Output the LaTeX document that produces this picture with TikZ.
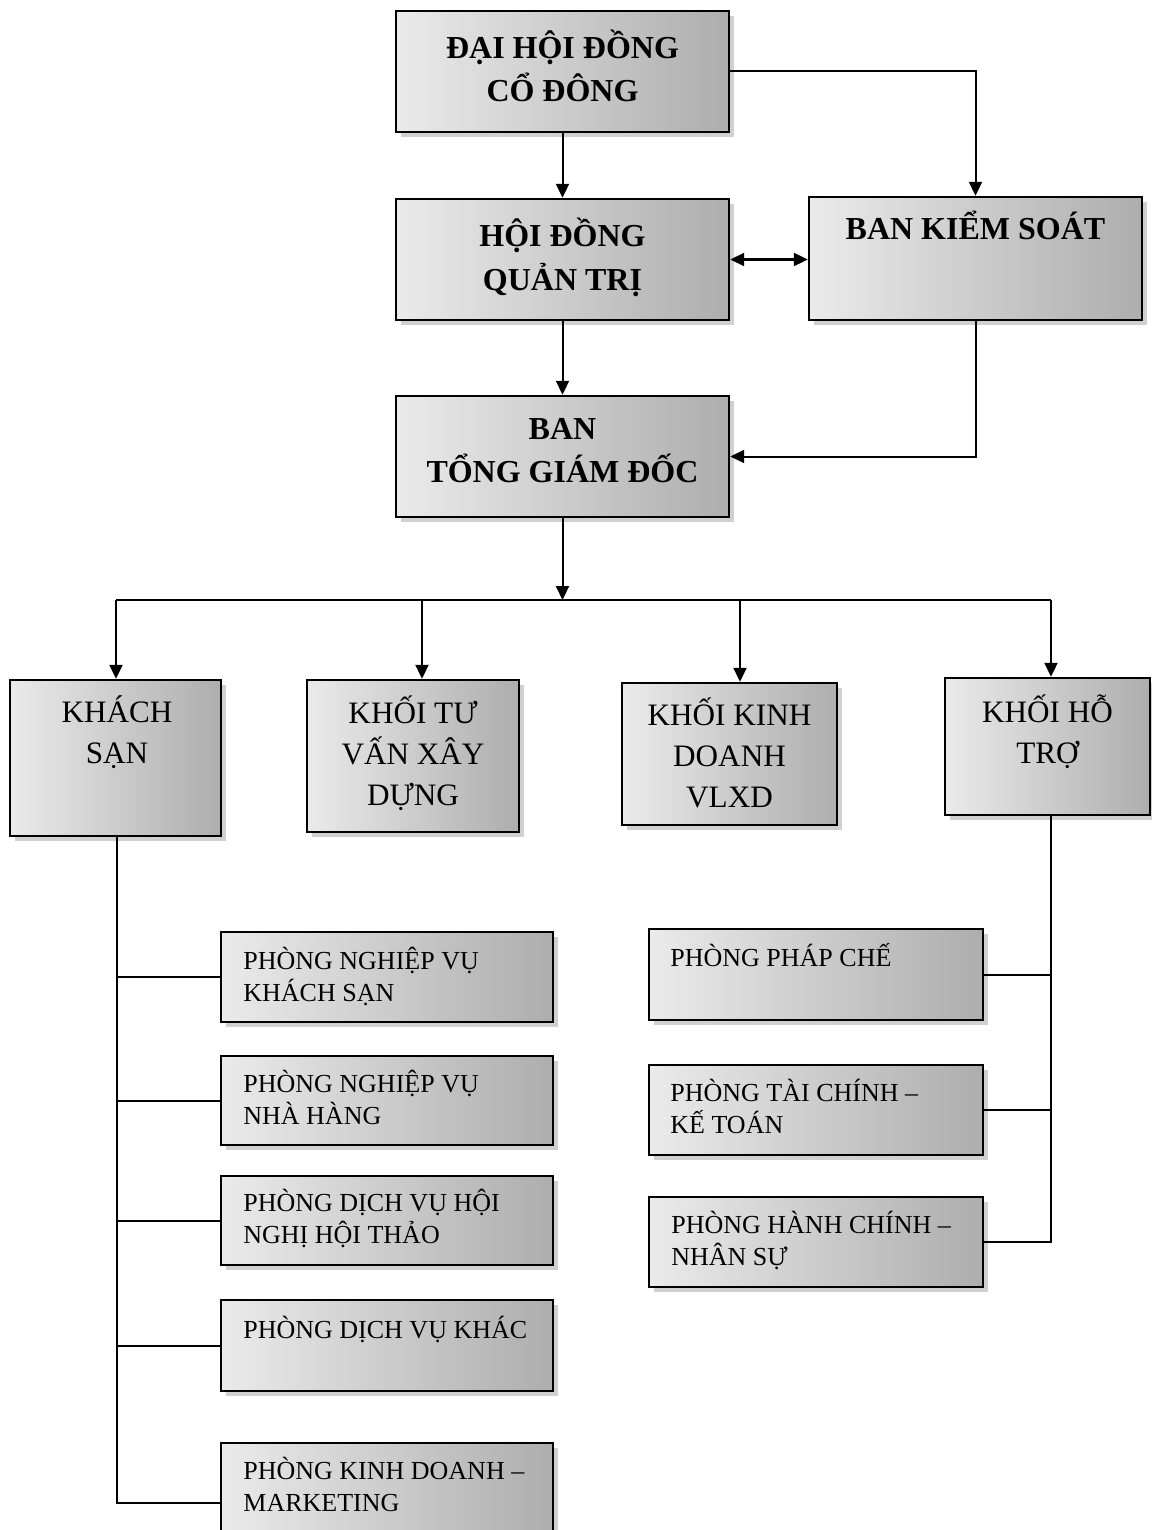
\documentclass[tikz,border=0pt]{standalone}
\usepackage{fontspec}
\setmainfont{Liberation Serif}
\usetikzlibrary{arrows.meta,fit,shadows}
\newcommand\ptxt[2]{\parbox[t]{#1}{#2}}
\newcommand\ltxt[1]{\begin{tabular}[t]{@{}l@{}}#1\end{tabular}}
\begin{document}
\begin{tikzpicture}[x=0.5pt,y=-0.5pt,
  box/.style={draw=black, line width=1.2pt, inner sep=0pt,
    left color=black!8, right color=black!32,
    drop shadow={shadow xshift=2.5pt, shadow yshift=-2.5pt, fill=black!60, opacity=0.3}},
  bigtxt/.style={inner sep=0pt, anchor=base, font=\fontsize{16}{21.5}\selectfont\bfseries},
  midtxt/.style={inner sep=0pt, anchor=base, font=\fontsize{15.6}{20.5}\selectfont},
  subtxt/.style={inner sep=0pt, anchor=base west, font=\fontsize{13}{16}\selectfont},
  conn/.style={line width=1pt},
  arr/.style={conn, -{Triangle[length=7pt,width=6.5pt]}},
  darr/.style={conn, {Triangle[length=7pt,width=6.5pt]}-{Triangle[length=7pt,width=6.5pt]}}]
\useasboundingbox[fill=white] (0,0) rectangle (1151,1530);

% top level boxes
\node[box, fit={(396,11)(729,132)}] (dh) {};
\node[box, fit={(396,199)(729,320)}] (hd) {};
\node[box, fit={(809,197)(1142,320)}] (bks) {};
\node[box, fit={(396,396)(729,517)}] (bt) {};

\node[bigtxt] (dht) at (562.5,59) {\ptxt{300pt}{\centering ĐẠI HỘI ĐỒNG\\CỔ ĐÔNG}};
\node[bigtxt] (hdt) at (562.5,247) {\ptxt{300pt}{\centering HỘI ĐỒNG\\QUẢN TRỊ}};
\node[bigtxt] (bkst) at (975.5,240) {\ptxt{300pt}{\centering BAN KIỂM SOÁT}};
\node[bigtxt] (btt) at (562.5,439) {\ptxt{300pt}{\centering BAN\\TỔNG GIÁM ĐỐC}};

% second level
\node[box, fit={(10,680)(221,836)}] (ks) {};
\node[box, fit={(307,680)(519,832)}] (tv) {};
\node[box, fit={(622,683)(837,825)}] (kd) {};
\node[box, fit={(945,678)(1150,815)}] (ht) {};

\node[midtxt] (kst) at (117,722) {\ptxt{200pt}{\centering KHÁCH\\SẠN}};
\node[midtxt] (tvt) at (413,723) {\ptxt{200pt}{\centering KHỐI TƯ\\VẤN XÂY\\DỰNG}};
\node[midtxt] (kdt) at (729.5,725) {\ptxt{200pt}{\centering KHỐI KINH\\DOANH\\VLXD}};
\node[midtxt] (htt) at (1047.5,722) {\ptxt{200pt}{\centering KHỐI HỖ\\TRỢ}};

% sub boxes left
\node[box, fit={(221,932)(553,1022)}] (s1) {};
\node[box, fit={(221,1056)(553,1145)}] (s2) {};
\node[box, fit={(221,1176)(553,1265)}] (s3) {};
\node[box, fit={(221,1300)(553,1391)}] (s4) {};
\node[box, fit={(221,1443)(553,1563)}] (s5) {};

\node[subtxt] (s1t) at (243,969) {\ptxt{220pt}{PHÒNG NGHIỆP VỤ\\KHÁCH SẠN}};
\node[subtxt] (s2t) at (243,1092) {\ptxt{220pt}{PHÒNG NGHIỆP VỤ\\NHÀ HÀNG}};
\node[subtxt] (s3t) at (243,1211) {\ptxt{220pt}{PHÒNG DỊCH VỤ HỘI\\NGHỊ HỘI THẢO}};
\node[subtxt] (s4t) at (243,1338) {\ptxt{220pt}{PHÒNG DỊCH VỤ KHÁC}};
\node[subtxt] (s5t) at (243,1479) {\ptxt{220pt}{PHÒNG KINH DOANH –\\MARKETING}};

% sub boxes right
\node[box, fit={(649,929)(983,1020)}] (r1) {};
\node[box, fit={(649,1065)(983,1155)}] (r2) {};
\node[box, fit={(649,1197)(983,1287)}] (r3) {};

\node[subtxt] (r1t) at (670,966) {\ptxt{220pt}{PHÒNG PHÁP CHẾ}};
\node[subtxt] (r2t) at (670,1101) {\ptxt{220pt}{PHÒNG TÀI CHÍNH –\\KẾ TOÁN}};
\node[subtxt] (r3t) at (671,1233) {\ptxt{220pt}{PHÒNG HÀNH CHÍNH –\par\noindent NHÂN SỰ}};

% connectors top
\draw[arr] (dh.south) -- (hd.north);
\draw[arr] (dh.east) -- (dh.east -| bks.north) -- (bks.north);
\draw[darr] (hd.east) -- (hd.east -| bks.west);
\draw[arr] (hd.south) -- (bt.north);
\draw[arr] (bks.south) -- (bks.south |- bt.east) -- (bt.east);

% bus
\coordinate (bus) at (562.5,600);
\coordinate (b1) at (116,600);
\coordinate (b2) at (422,600);
\coordinate (b3) at (740,600);
\coordinate (b4) at (1051,600);
\draw[arr] (bt.south) -- (bus);
\draw[conn] (b1) -- (b4);
\draw[arr] (b1) -- (b1 |- ks.north);
\draw[arr] (b2) -- (b2 |- tv.north);
\draw[arr] (b3) -- (b3 |- kd.north);
\draw[arr] (b4) -- (b4 |- ht.north);

% left tree
\coordinate (lk) at (117,836);
\draw[conn] (lk) -- (lk |- s5.west) -- (s5.west);
\draw[conn] (lk |- s1.west) -- (s1.west);
\draw[conn] (lk |- s2.west) -- (s2.west);
\draw[conn] (lk |- s3.west) -- (s3.west);
\draw[conn] (lk |- s4.west) -- (s4.west);

% right tree
\coordinate (rk) at (1051,815);
\draw[conn] (rk) -- (rk |- r3.east) -- (r3.east);
\draw[conn] (rk |- r1.east) -- (r1.east);
\draw[conn] (rk |- r2.east) -- (r2.east);
\end{tikzpicture}
\end{document}
